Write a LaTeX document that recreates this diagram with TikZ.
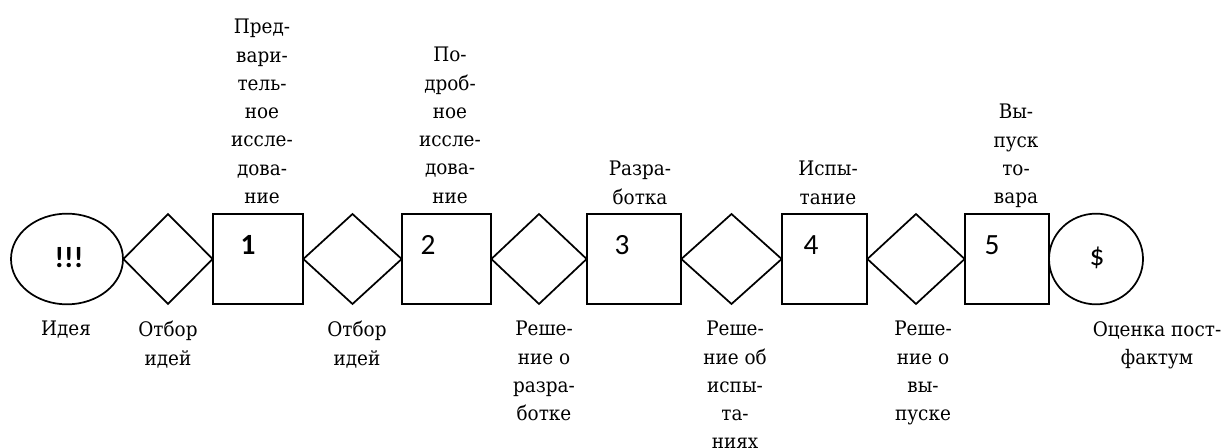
\documentclass[tikz,border=0pt]{standalone}
\usepackage{fontspec}
\setmainfont[FakeStretch=0.92]{DejaVu Serif}
\newfontfamily\numfont{Carlito}
\usetikzlibrary{shapes.geometric}
\begin{document}
\begin{tikzpicture}[x=0.75pt,y=-0.75pt,
  shp/.style={draw, line width=1.3pt, inner sep=0pt, minimum height=68pt},
  stage/.style={shp, rectangle},
  gate/.style={shp, diamond},
  num/.style={font=\numfont\fontsize{22}{26}\selectfont, inner sep=0pt},
  lbl/.style={font=\fontsize{15}{21.2}\selectfont, align=center, inner sep=0pt}]
\useasboundingbox (0,0) rectangle (1227,448);
% chain of shapes
\node[shp, ellipse, minimum width=84pt] (idea) at (67,259){};
\node[gate, minimum width=67.5pt] (gate1) at (168,259){};
\node[stage, minimum width=67.5pt] (stage1) at (258,259){};
\node[gate, minimum width=74.3pt] (gate2) at (352.5,259){};
\node[stage, minimum width=66.8pt] (stage2) at (446.5,259){};
\node[gate, minimum width=72pt] (gate3) at (539,259){};
\node[stage, minimum width=70.5pt] (stage3) at (634,259){};
\node[gate, minimum width=75.8pt] (gate4) at (731.5,259){};
\node[stage, minimum width=63.8pt] (stage4) at (824.5,259){};
\node[gate, minimum width=73.5pt] (gate5) at (916,259){};
\node[stage, minimum width=63pt] (stage5) at (1007,259){};
\node[shp, ellipse, minimum width=70.5pt] (result) at (1096,259){};
% marks inside
\node[num, font=\numfont\bfseries\fontsize{22}{26}\selectfont] (ideamark) at (69,258){!!!};
\node[num, font=\numfont\bfseries\fontsize{22}{26}\selectfont] (num1) at (248,245){1};
\node[num] (num2) at (428,245){2};
\node[num] (num3) at (622,245){3};
\node[num] (num4) at (811,245){4};
\node[num] (num5) at (992,245){5};
\node[num] (resultmark) at (1097,258){\$};
% labels above
\node[lbl, anchor=north] (top1) at (262,19){Пред-\\вари-\\тель-\\ное\\иссле-\\дова-\\ние};
\node[lbl, anchor=north] (top2) at (450,47){По-\\дроб-\\ное\\иссле-\\дова-\\ние};
\node[lbl, anchor=north] (top3) at (640,161){Разра-\\ботка};
\node[lbl, anchor=north] (top4) at (828,161){Испы-\\тание};
\node[lbl, anchor=north] (top5) at (1016,104){Вы-\\пуск\\то-\\вара};
% labels below
\node[lbl, anchor=north] (bot0) at (66,321){Идея};
\node[lbl, anchor=north] (bot1) at (168,321){Отбор\\идей};
\node[lbl, anchor=north] (bot2) at (357,321){Отбор\\идей};
\node[lbl, anchor=north] (bot3) at (544,321){Реше-\\ние о\\разра-\\ботке};
\node[lbl, anchor=north] (bot4) at (735,321){Реше-\\ние об\\испы-\\та-\\ниях};
\node[lbl, anchor=north] (bot5) at (923,321){Реше-\\ние о\\вы-\\пуске};
\node[lbl, anchor=north] (bot6) at (1157,321){Оценка пост-\\фактум};
\end{tikzpicture}
\end{document}
